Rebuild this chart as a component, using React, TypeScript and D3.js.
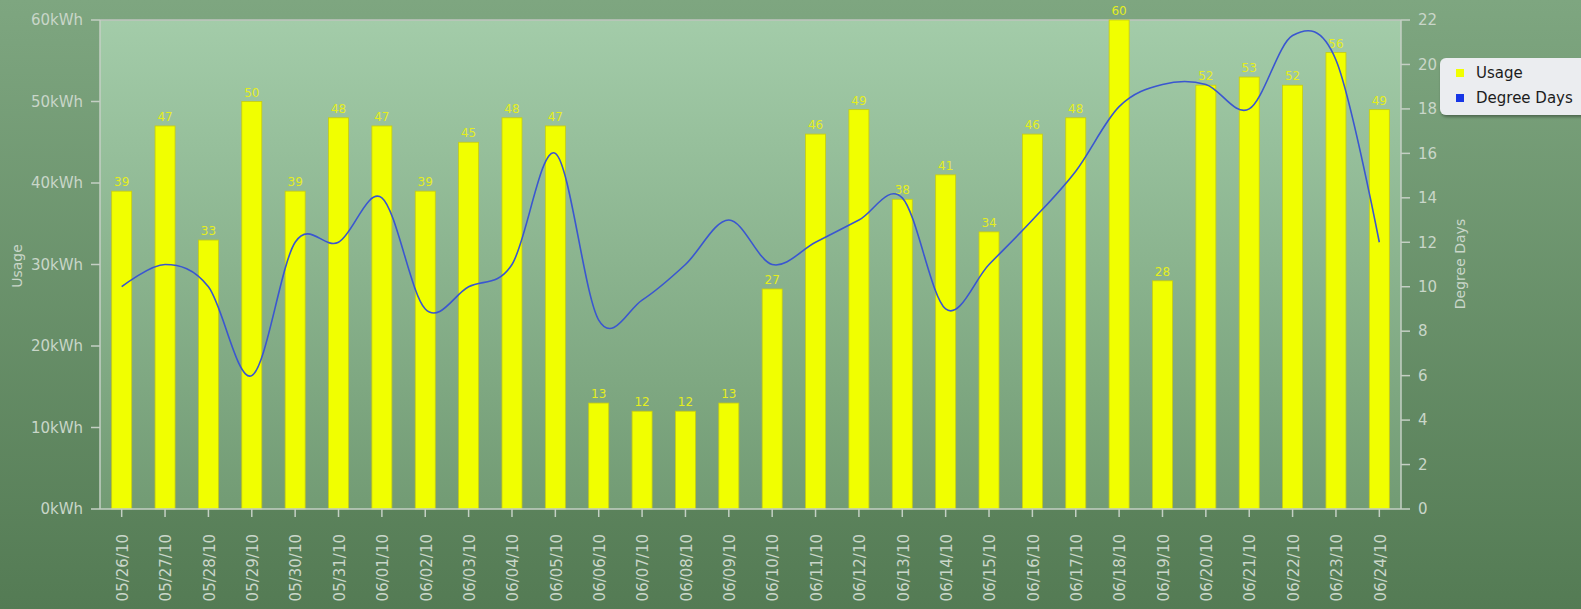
import * as d3 from "d3";

const dates = [
  "05/26/10", "05/27/10", "05/28/10", "05/29/10", "05/30/10", "05/31/10",
  "06/01/10", "06/02/10", "06/03/10", "06/04/10", "06/05/10", "06/06/10",
  "06/07/10", "06/08/10", "06/09/10", "06/10/10", "06/11/10", "06/12/10",
  "06/13/10", "06/14/10", "06/15/10", "06/16/10", "06/17/10", "06/18/10",
  "06/19/10", "06/20/10", "06/21/10", "06/22/10", "06/23/10", "06/24/10",
];
// kWh per day
const usage = [39, 47, 33, 50, 39, 48, 47, 39, 45, 48, 47, 13, 12, 12, 13, 27, 46, 49, 38, 41, 34, 46, 48, 60, 28, 52, 53, 52, 56, 49];
const degreeDays = [10, 11, 10, 6, 12, 12, 14, 9, 10, 11, 16, 8.5, 9.4, 11, 13, 11, 12, 13, 14, 9, 11, 13, 15.2, 18.1, 19.1, 19.1, 18, 21.3, 20.2, 12];
const usageTicks = [0, 10, 20, 30, 40, 50, 60];
const degreeTicks = [0, 2, 4, 6, 8, 10, 12, 14, 16, 18, 20, 22];

const W = 1581;
const H = 609;
const M = { top: 20, right: 180, bottom: 100, left: 100 };
const FONT = "DejaVu Sans, Verdana, sans-serif";
const AXIS = "#c4cfc4";
const TXT = "#c9d6c9";

export default function App() {
  const x = d3.scaleBand<string>().domain(dates).range([M.left, W - M.right]).paddingInner(0);
  const yU = d3.scaleLinear().domain([0, 60]).range([H - M.bottom, M.top]);
  const yD = d3.scaleLinear().domain([0, 22]).range([H - M.bottom, M.top]);
  const barW = 20;
  const cx = (d: string) => (x(d) ?? 0) + x.bandwidth() / 2;

  const line = d3
    .line<number>()
    .x((_, i) => cx(dates[i]))
    .y((d) => yD(d))
    .curve(d3.curveCardinal.tension(0));

  const left = M.left;
  const right = W - M.right;
  const bottom = H - M.bottom;

  return (
    <svg width={W} height={H} style={{ position: "absolute", left: 0, top: 0 }} fontFamily={FONT}>
      <defs>
        <linearGradient id="bg" x1="0" y1="0" x2="0" y2="1">
          <stop offset="0" stopColor="#7ea680" />
          <stop offset="1" stopColor="#547b54" />
        </linearGradient>
        <linearGradient id="plot" x1="0" y1="0" x2="0" y2="1">
          <stop offset="0" stopColor="#a3cca9" />
          <stop offset="1" stopColor="#729b74" />
        </linearGradient>
        <filter id="shadow" x="-10%" y="-10%" width="130%" height="140%">
          <feDropShadow dx="1" dy="2" stdDeviation="1.5" floodColor="#000" floodOpacity="0.35" />
        </filter>
      </defs>
      <rect width={W} height={H} fill="url(#bg)" />
      <rect x={left} y={M.top} width={right - left} height={bottom - M.top} fill="url(#plot)" />
      <line x1={left} x2={right} y1={M.top} y2={M.top} stroke="#bfc4bf" strokeWidth={1.5} />

      {/* bars */}
      {usage.map((v, i) => (
        <g key={dates[i]}>
          <rect
            x={cx(dates[i]) - barW / 2}
            y={yU(v)}
            width={barW}
            height={bottom - yU(v)}
            fill="#f1ff00"
            stroke="#c6cc10"
            strokeWidth={0.8}
          />
          <text x={cx(dates[i])} y={yU(v) - 5} textAnchor="middle" fontSize={12} fill="#e4ee1e">
            {v}
          </text>
        </g>
      ))}

      <path d={line(degreeDays) ?? ""} fill="none" stroke="#3a56d0" strokeWidth={1.6} />

      {/* left axis */}
      <line x1={left} x2={left} y1={M.top} y2={bottom} stroke={AXIS} strokeWidth={1.5} />
      {usageTicks.map((t) => (
        <g key={t}>
          <line x1={left - 9} x2={left} y1={yU(t)} y2={yU(t)} stroke={AXIS} strokeWidth={1.5} />
          <text x={left - 17} y={yU(t)} dy="0.35em" textAnchor="end" fontSize={15} fill={TXT}>
            {`${t}kWh`}
          </text>
        </g>
      ))}
      <text transform={`translate(22,266) rotate(-90)`} textAnchor="middle" fontSize={14} fill={TXT}>
        Usage
      </text>

      {/* right axis */}
      <line x1={right} x2={right} y1={M.top} y2={bottom} stroke={AXIS} strokeWidth={1.5} />
      {degreeTicks.map((t) => (
        <g key={t}>
          <line x1={right} x2={right + 9} y1={yD(t)} y2={yD(t)} stroke={AXIS} strokeWidth={1.5} />
          <text x={right + 17} y={yD(t)} dy="0.35em" fontSize={15} fill={TXT}>
            {t}
          </text>
        </g>
      ))}
      <text transform={`translate(1465,264) rotate(-90)`} textAnchor="middle" fontSize={14} fill={TXT}>
        Degree Days
      </text>

      {/* bottom axis */}
      <line x1={left} x2={right} y1={bottom} y2={bottom} stroke={AXIS} strokeWidth={1.5} />
      {dates.map((d) => (
        <g key={d}>
          <line x1={cx(d)} x2={cx(d)} y1={bottom} y2={bottom + 8} stroke={AXIS} strokeWidth={1.5} />
          <text
            transform={`translate(${cx(d) + 1},${bottom + 25}) rotate(-90)`}
            textAnchor="end"
            dy="0.35em"
            fontSize={15}
            fill={TXT}
          >
            {d}
          </text>
        </g>
      ))}

      {/* legend */}
      <g filter="url(#shadow)">
        <rect x={1440} y={58} width={160} height={57} rx={6} fill="#ebedf0" />
      </g>
      <rect x={1456} y={69} width={8} height={8} fill="#f1ff00" />
      <text x={1476} y={73} dy="0.35em" fontSize={15} fill="#1c1c1c">Usage</text>
      <rect x={1456} y={94} width={8} height={8} fill="#1736e6" />
      <text x={1476} y={98} dy="0.35em" fontSize={15} fill="#1c1c1c">Degree Days</text>
    </svg>
  );
}
